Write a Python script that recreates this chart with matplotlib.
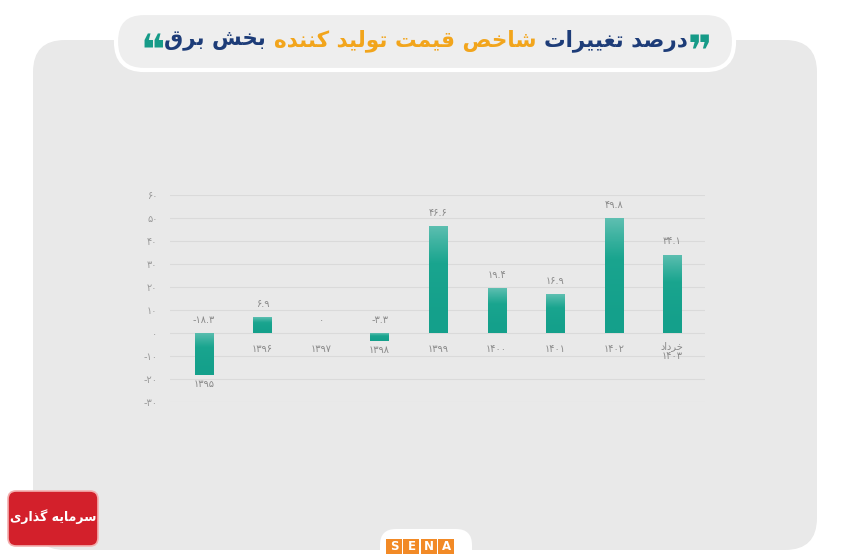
import matplotlib
matplotlib.use("Agg")
import matplotlib.pyplot as plt
import numpy as np
from matplotlib.patches import FancyBboxPatch, Rectangle
from matplotlib.colors import LinearSegmentedColormap

# ---------------- data ----------------
categories = ["۱۳۹۵", "۱۳۹۶", "۱۳۹۷", "۱۳۹۸", "۱۳۹۹", "۱۴۰۰", "۱۴۰۱", "۱۴۰۲", "خرداد\n۱۴۰۳"]
values = [-18.3, 6.9, 0.0, -3.3, 46.6, 19.4, 16.9, 49.8, 34.1]
value_labels = ["-۱۸.۳", "۶.۹", "۰", "-۳.۳", "۴۶.۶", "۱۹.۴", "۱۶.۹", "۴۹.۸", "۳۴.۱"]
y_ticks = [-30, -20, -10, 0, 10, 20, 30, 40, 50, 60]
y_tick_labels = ["-۳۰", "-۲۰", "-۱۰", "۰", "۱۰", "۲۰", "۳۰", "۴۰", "۵۰", "۶۰"]
title_parts = ["درصد تغییرات", "شاخص قیمت تولید کننده", "بخش برق"]
logo_text = "سرمایه گذاری"

# ---------------- simple Arabic-script shaping ----------------
FORMS = {  # isolated, final, initial, medial (None -> right-joining only)
    'ا': ('\uFE8D', '\uFE8E', None, None),
    'ب': ('\uFE8F', '\uFE90', '\uFE91', '\uFE92'),
    'ت': ('\uFE95', '\uFE96', '\uFE97', '\uFE98'),
    'خ': ('\uFEA5', '\uFEA6', '\uFEA7', '\uFEA8'),
    'د': ('\uFEA9', '\uFEAA', None, None),
    'ذ': ('\uFEAB', '\uFEAC', None, None),
    'ر': ('\uFEAD', '\uFEAE', None, None),
    'س': ('\uFEB1', '\uFEB2', '\uFEB3', '\uFEB4'),
    'ش': ('\uFEB5', '\uFEB6', '\uFEB7', '\uFEB8'),
    'ص': ('\uFEB9', '\uFEBA', '\uFEBB', '\uFEBC'),
    'غ': ('\uFECD', '\uFECE', '\uFECF', '\uFED0'),
    'ق': ('\uFED5', '\uFED6', '\uFED7', '\uFED8'),
    'ک': ('\uFB8E', '\uFB8F', '\uFB90', '\uFB91'),
    'گ': ('\uFB92', '\uFB93', '\uFB94', '\uFB95'),
    'ل': ('\uFEDD', '\uFEDE', '\uFEDF', '\uFEE0'),
    'م': ('\uFEE1', '\uFEE2', '\uFEE3', '\uFEE4'),
    'ن': ('\uFEE5', '\uFEE6', '\uFEE7', '\uFEE8'),
    'ه': ('\uFEE9', '\uFEEA', '\uFEEB', '\uFEEC'),
    'و': ('\uFEED', '\uFEEE', None, None),
    'ی': ('\uFBFC', '\uFBFD', '\uFBFE', '\uFBFF'),
}


def shape(text):
    out = []
    for i, c in enumerate(text):
        if c not in FORMS:
            out.append(c)
            continue
        f = FORMS[c]
        prev = text[i - 1] if i > 0 else None
        nxt = text[i + 1] if i + 1 < len(text) else None
        jp = prev in FORMS and FORMS[prev][2] is not None
        jn = nxt in FORMS and f[2] is not None
        if jp and jn:
            out.append(f[3])
        elif jp:
            out.append(f[1])
        elif jn:
            out.append(f[2])
        else:
            out.append(f[0])
    return ''.join(reversed(out))


def shape_lines(text):
    return "\n".join(shape(l) if any(ch in FORMS for ch in l) else l for l in text.split("\n"))


# ---------------- figure ----------------
W, H = 850, 560
fig = plt.figure(figsize=(W / 100, H / 100), dpi=100, facecolor="white")

bg = fig.add_axes([0, 0, 1, 1], zorder=0)
bg.set_xlim(0, W)
bg.set_ylim(H, 0)
bg.axis("off")

# main panel
bg.add_patch(FancyBboxPatch((33, 40), 784, 510, boxstyle="round,pad=0,rounding_size=32",
                            facecolor="#e9e9e9", edgecolor="none"))
# title pill
bg.add_patch(FancyBboxPatch((116, 13), 618, 57, boxstyle="round,pad=0,rounding_size=28",
                            facecolor="#eeeeee", edgecolor="white", linewidth=3))

# title text (visual order left -> right)
navy = "#1d3c78"
orange = "#f2a51c"
teal = "#169b88"
tfs = 15.5
segments = [
    ("\u275D", teal, 30, 53),
    (shape(title_parts[2]), navy, tfs, 41),
    (" ", navy, tfs, 41),
    (shape(title_parts[1]), orange, tfs, 41),
    (" ", navy, tfs, 41),
    (shape(title_parts[0]), navy, tfs, 41),
    ("\u275E", teal, 30, 53),
]
renderer = fig.canvas.get_renderer()
texts = []
widths = []
for s, col, fs, yy in segments:
    t = bg.text(0, yy, s, color=col, fontsize=fs, fontweight="bold", family="DejaVu Sans",
                ha="left", va="center", zorder=5)
    texts.append(t)
    widths.append(t.get_window_extent(renderer).width)
total = sum(widths)
x = 426 - total / 2
for t, w in zip(texts, widths):
    t.set_x(x)
    x += w

# logo bottom-left
bg.add_patch(FancyBboxPatch((8, 491), 90, 55, boxstyle="round,pad=0,rounding_size=8",
                            facecolor="#d3202b", edgecolor="#f3b0b0", linewidth=1.2, zorder=3))
bg.text(53, 517, shape(logo_text), color="white", fontsize=9, fontweight="bold",
        family="DejaVu Sans", ha="center", va="center", zorder=4)

# SENA logo bottom-centre
bg.add_patch(FancyBboxPatch((380, 529), 92, 40, boxstyle="round,pad=0,rounding_size=16",
                            facecolor="white", edgecolor="none", zorder=3))
for i, ch in enumerate("SENA"):
    x0 = 386 + i * 17.5
    bg.add_patch(Rectangle((x0, 539), 16, 15, facecolor="#f28a26", edgecolor="none", zorder=4))
    bg.text(x0 + 8, 546.5, ch, color="white", fontsize=8.5, fontweight="bold",
            ha="center", va="center", zorder=5)

# ---------------- chart ----------------
ax = fig.add_axes([170 / W, 1 - 402 / H, (705 - 170) / W, (402 - 195) / H], zorder=1)
ax.set_facecolor("none")
for sp in ax.spines.values():
    sp.set_visible(False)

xs = np.arange(len(categories))
xlim = (-0.58, len(categories) - 1 + 0.56)
ylim = (-30, 60)

ax.set_yticks(y_ticks)
ax.set_yticklabels(y_tick_labels, fontsize=7, color="#9a9a9a")
ax.tick_params(axis="y", length=0, pad=9)
ax.set_xticks([])
ax.grid(axis="y", color="#dadada", linewidth=0.8)
ax.set_axisbelow(True)

cmap = LinearSegmentedColormap.from_list("bar", ["#14a08b", "#1aa58f", "#5ebfb1"])
grad = np.linspace(1, 0, 100).reshape(-1, 1)
grad = grad ** 1.6

bw = 0.31
bars = ax.bar(xs, values, width=bw, color="#1aa58f", zorder=2)
for b, v in zip(bars, values):
    if v == 0:
        continue
    l = b.get_x()
    r = l + b.get_width()
    top, bot = max(v, 0), min(v, 0)
    im = ax.imshow(grad, extent=[l, r, bot, top], aspect="auto", cmap=cmap,
                   origin="upper", zorder=3, vmin=0, vmax=1)
    im.set_clip_path(b)

px_per_unit = (402 - 195) / 90.0
for xi, v, lab, cat in zip(xs, values, value_labels, categories):
    vy = max(v, 0)
    ax.annotate(lab, (xi, vy), xytext=(0, 9.5), textcoords="offset points",
                ha="center", va="center", fontsize=7, color="#8a8a8a")
    cy = min(min(v, 0) - 9 / px_per_unit, -16 / px_per_unit)
    if "\n" in cat:
        cy = -18 / px_per_unit
    ax.text(xi, cy, shape_lines(cat), ha="center", va="center", fontsize=7,
            color="#8a8a8a", linespacing=1.05)

ax.set_xlim(*xlim)
ax.set_ylim(*ylim)

fig.savefig("out.png", dpi=100, facecolor="white")
